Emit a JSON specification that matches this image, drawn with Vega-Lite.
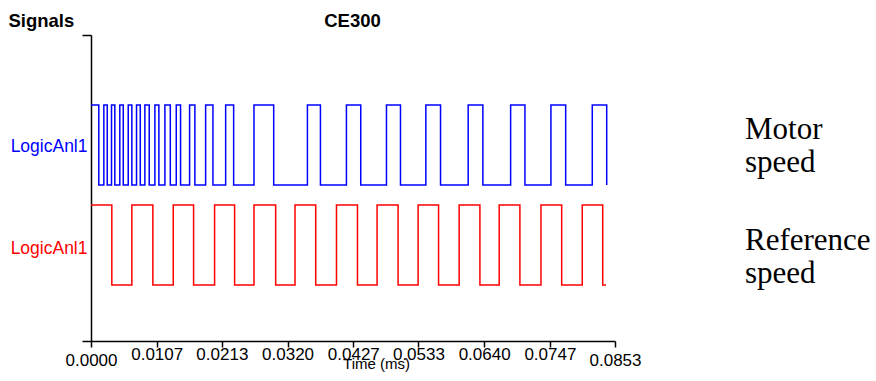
{
  "$schema": "https://vega.github.io/schema/vega-lite/v6.json",
  "width": 524,
  "height": 306,
  "autosize": "none",
  "padding": {"left": 91, "top": 35, "right": 261, "bottom": 40},
  "background": "white",
  "config": {"view": {"stroke": null}, "axis": {"grid": false}},
  "datasets": {
    "signals": [
      {"signal": "Motor speed", "t": 0, "level": 2.95},
      {"signal": "Motor speed", "t": 0.00127, "level": 1.95},
      {"signal": "Motor speed", "t": 0.00209, "level": 2.95},
      {"signal": "Motor speed", "t": 0.00264, "level": 1.95},
      {"signal": "Motor speed", "t": 0.00334, "level": 2.95},
      {"signal": "Motor speed", "t": 0.00388, "level": 1.95},
      {"signal": "Motor speed", "t": 0.00469, "level": 2.95},
      {"signal": "Motor speed", "t": 0.00525, "level": 1.95},
      {"signal": "Motor speed", "t": 0.00606, "level": 2.95},
      {"signal": "Motor speed", "t": 0.00665, "level": 1.95},
      {"signal": "Motor speed", "t": 0.00741, "level": 2.95},
      {"signal": "Motor speed", "t": 0.00802, "level": 1.95},
      {"signal": "Motor speed", "t": 0.00877, "level": 2.95},
      {"signal": "Motor speed", "t": 0.00948, "level": 1.95},
      {"signal": "Motor speed", "t": 0.0104, "level": 2.95},
      {"signal": "Motor speed", "t": 0.01105, "level": 1.95},
      {"signal": "Motor speed", "t": 0.01203, "level": 2.95},
      {"signal": "Motor speed", "t": 0.01291, "level": 1.95},
      {"signal": "Motor speed", "t": 0.01388, "level": 2.95},
      {"signal": "Motor speed", "t": 0.01458, "level": 1.95},
      {"signal": "Motor speed", "t": 0.01605, "level": 2.95},
      {"signal": "Motor speed", "t": 0.01691, "level": 1.95},
      {"signal": "Motor speed", "t": 0.01866, "level": 2.95},
      {"signal": "Motor speed", "t": 0.01985, "level": 1.95},
      {"signal": "Motor speed", "t": 0.02192, "level": 2.95},
      {"signal": "Motor speed", "t": 0.02322, "level": 1.95},
      {"signal": "Motor speed", "t": 0.02653, "level": 2.95},
      {"signal": "Motor speed", "t": 0.02974, "level": 1.95},
      {"signal": "Motor speed", "t": 0.03523, "level": 2.95},
      {"signal": "Motor speed", "t": 0.03735, "level": 1.95},
      {"signal": "Motor speed", "t": 0.04158, "level": 2.95},
      {"signal": "Motor speed", "t": 0.04391, "level": 1.95},
      {"signal": "Motor speed", "t": 0.0481, "level": 2.95},
      {"signal": "Motor speed", "t": 0.05038, "level": 1.95},
      {"signal": "Motor speed", "t": 0.05451, "level": 2.95},
      {"signal": "Motor speed", "t": 0.0569, "level": 1.95},
      {"signal": "Motor speed", "t": 0.0614, "level": 2.95},
      {"signal": "Motor speed", "t": 0.06379, "level": 1.95},
      {"signal": "Motor speed", "t": 0.06831, "level": 2.95},
      {"signal": "Motor speed", "t": 0.07064, "level": 1.95},
      {"signal": "Motor speed", "t": 0.07487, "level": 2.95},
      {"signal": "Motor speed", "t": 0.07727, "level": 1.95},
      {"signal": "Motor speed", "t": 0.0816, "level": 2.95},
      {"signal": "Motor speed", "t": 0.08395, "level": 1.95},
      {"signal": "Reference speed", "t": 0, "level": 1.7},
      {"signal": "Reference speed", "t": 0.00339, "level": 0.7},
      {"signal": "Reference speed", "t": 0.00665, "level": 1.7},
      {"signal": "Reference speed", "t": 0.01007, "level": 0.7},
      {"signal": "Reference speed", "t": 0.01339, "level": 1.7},
      {"signal": "Reference speed", "t": 0.0167, "level": 0.7},
      {"signal": "Reference speed", "t": 0.02012, "level": 1.7},
      {"signal": "Reference speed", "t": 0.02338, "level": 0.7},
      {"signal": "Reference speed", "t": 0.02653, "level": 1.7},
      {"signal": "Reference speed", "t": 0.03006, "level": 0.7},
      {"signal": "Reference speed", "t": 0.03321, "level": 1.7},
      {"signal": "Reference speed", "t": 0.03658, "level": 0.7},
      {"signal": "Reference speed", "t": 0.03996, "level": 1.7},
      {"signal": "Reference speed", "t": 0.04338, "level": 0.7},
      {"signal": "Reference speed", "t": 0.04657, "level": 1.7},
      {"signal": "Reference speed", "t": 0.04999, "level": 0.7},
      {"signal": "Reference speed", "t": 0.05325, "level": 1.7},
      {"signal": "Reference speed", "t": 0.05658, "level": 0.7},
      {"signal": "Reference speed", "t": 0.05993, "level": 1.7},
      {"signal": "Reference speed", "t": 0.06331, "level": 0.7},
      {"signal": "Reference speed", "t": 0.06645, "level": 1.7},
      {"signal": "Reference speed", "t": 0.06982, "level": 0.7},
      {"signal": "Reference speed", "t": 0.07325, "level": 1.7},
      {"signal": "Reference speed", "t": 0.07662, "level": 0.7},
      {"signal": "Reference speed", "t": 0.07997, "level": 1.7},
      {"signal": "Reference speed", "t": 0.0833, "level": 0.7},
      {"signal": "Reference speed", "t": 0.08384, "level": 0.7}
    ],
    "notes": [
      {"label": "Motor\nspeed", "t": 0.10646, "level": 2.525},
      {"label": "Reference\nspeed", "t": 0.10646, "level": 1.14}
    ]
  },
  "layer": [
    {
      "data": {"name": "signals"},
      "mark": {"type": "line", "interpolate": "step-after", "strokeWidth": 1.5},
      "encoding": {
        "x": {
          "field": "t", "type": "quantitative",
          "scale": {"domain": [0, 0.0853], "nice": false, "zero": false},
          "axis": {
            "orient": "bottom",
            "values": [0, 0.0107, 0.0213, 0.032, 0.0427, 0.0533, 0.064, 0.0747, 0.0853],
            "format": ".4f",
            "title": "Time (ms)",
            "titleFont": "Liberation Sans", "titleFontSize": 15, "titleFontWeight": "normal", "titleColor": "black",
            "titleX": 285, "titleY": 27, "titleBaseline": "alphabetic", "titleAlign": "center", "titleAnchor": null,
            "labelFont": "Liberation Sans", "labelFontSize": 17, "labelColor": "black",
            "labelBaseline": "top",
            "labelPadding": {"condition": {"test": "datum.value < 0.001 || datum.value > 0.085", "value": 5}, "value": -1},
            "labelOverlap": false, "labelFlush": false, "labelBound": false,
            "tickSize": 6, "tickColor": "black", "tickWidth": 1.5,
            "domainColor": "black", "domainWidth": 1.5
          }
        },
        "y": {
          "field": "level", "type": "quantitative",
          "scale": {"domain": [0, 3.825], "nice": false},
          "axis": {
            "values": [0, 1.16, 2.43, 3.825],
            "labelExpr": "datum.value > 0.5 && datum.value < 3 ? 'LogicAnl1' : ''",
            "labelColor": {"condition": {"test": "datum.value > 2", "value": "#0000ff"}, "value": "#ff0000"},
            "labelFont": "Liberation Sans", "labelFontSize": 17.5,
            "labelBaseline": "middle", "labelPadding": -5, "labelOverlap": false, "labelBound": false,
            "tickSize": 9, "tickColor": "black", "tickWidth": 1.5,
            "tickOpacity": {"condition": {"test": "datum.value > 0.5 && datum.value < 3", "value": 0}, "value": 1},
            "domainColor": "black", "domainWidth": 1.5,
            "title": "Signals", "titleAngle": 0, "titleAlign": "left", "titleBaseline": "alphabetic",
            "titleX": -83, "titleY": -9, "titleFont": "Liberation Sans", "titleFontSize": 18.5, "titleFontWeight": "bold", "titleColor": "black"
          }
        },
        "color": {
          "field": "signal", "type": "nominal",
          "scale": {"domain": ["Motor speed", "Reference speed"], "range": ["#0000ff", "#ff0000"]},
          "legend": null
        }
      }
    },
    {
      "data": {"name": "notes"},
      "mark": {"type": "text", "align": "left", "baseline": "alphabetic", "font": "Liberation Serif", "fontSize": 31, "lineBreak": "\n", "lineHeight": 33, "color": "black"},
      "encoding": {
        "x": {
          "field": "t", "type": "quantitative",
          "axis": {
            "orient": "top", "domain": false, "ticks": false, "labels": false,
            "title": "CE300", "titleX": 261, "titleY": -9, "titleAlign": "center", "titleAnchor": null, "titleBaseline": "alphabetic",
            "titleFont": "Liberation Sans", "titleFontSize": 18.5, "titleFontWeight": "bold", "titleColor": "black"
          }
        },
        "y": {"field": "level", "type": "quantitative"},
        "text": {"field": "label"}
      }
    }
  ]
}
